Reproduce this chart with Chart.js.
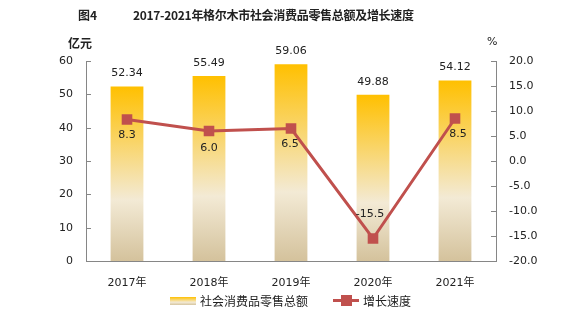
<!DOCTYPE html>
<html>
<head>
<meta charset="utf-8">
<script src="https://cdn.jsdelivr.net/npm/chart.js@4"></script>
<style>
  body { margin:0; background:#fff; }
  #wrap { position:relative; width:581px; height:324px; font-family:"DejaVu Sans","Noto Sans CJK SC",sans-serif; color:#222; }
  #c { position:absolute; left:0; top:0; }
  .t { position:absolute; white-space:pre; }
  .title { top:6px; font-size:12px; font-weight:bold; font-family:"Noto Sans CJK SC",sans-serif; }
  #fig { left:78px; }
  #title { left:133px; letter-spacing:-0.3px; }
  #unitL { left:68px; top:34px; font-size:12px; font-weight:bold; font-family:"Noto Sans CJK SC",sans-serif; }
  #unitR { left:487px; top:35px; font-size:11px; }
  #legend { left:170px; top:292px; font-size:12px; font-family:"DejaVu Sans","Noto Sans CJK SC",sans-serif; display:flex; align-items:center; }
  .sw-bar { width:26px; height:8px; background:linear-gradient(#ffc000,#f3ead5 65%,#d6c59f); margin-right:4px; }
  .sw-line { position:relative; width:26px; height:3px; background:#c0504d; margin:0 4px 0 25px; }
  .sw-line:after { content:""; position:absolute; left:8px; top:-4px; width:11px; height:11px; background:#c0504d; }
</style>
</head>
<body>
<div id="wrap">
  <canvas id="c" width="581" height="324"></canvas>
  <div class="t title" id="fig">图4</div>
  <div class="t title" id="title">2017-2021年格尔木市社会消费品零售总额及增长速度</div>
  <div class="t" id="unitL">亿元</div>
  <div class="t" id="unitR">%</div>
  <div class="t" id="legend"><span class="sw-bar"></span>社会消费品零售总额<span class="sw-line"></span>增长速度</div>
</div>
<script>
// data
const years = ['2017年', '2018年', '2019年', '2020年', '2021年'];
const retailSales = [52.34, 55.49, 59.06, 49.88, 54.12];
const growthRate = [8.3, 6.0, 6.5, -15.5, 8.5];

const lineRed = '#c0504d';
const axisGray = '#868686';

// label offsets for the growth line (dx, dy)
const lineLabelOffsets = [[0, 16], [0, 17], [-1, 16], [-3, -24], [3, 16]];

function barGradient(ctx) {
  const chart = ctx.chart;
  if (!chart.chartArea) return '#ffc000';
  const y = chart.scales.y;
  const top = y.getPixelForValue(ctx.raw);
  const bottom = y.getPixelForValue(0);
  const g = chart.ctx.createLinearGradient(0, top, 0, bottom);
  g.addColorStop(0, '#ffc000');
  g.addColorStop(0.65, '#f3ead5');
  g.addColorStop(1, '#d4c29c');
  return g;
}

// inward tick marks + value labels
const extras = {
  id: 'extras',
  afterDraw(chart) {
    const c = chart.ctx;
    const { y, y1 } = chart.scales;
    c.save();
    c.strokeStyle = axisGray;
    c.lineWidth = 1;
    y.ticks.forEach(t => {
      const py = Math.round(y.getPixelForValue(t.value)) + 0.5;
      c.beginPath(); c.moveTo(y.right, py); c.lineTo(y.right + 5, py); c.stroke();
    });
    y1.ticks.forEach(t => {
      const py = Math.round(y1.getPixelForValue(t.value)) + 0.5;
      c.beginPath(); c.moveTo(y1.left - 5, py); c.lineTo(y1.left, py); c.stroke();
    });
    c.font = '11px "DejaVu Sans", sans-serif';
    c.fillStyle = '#222';
    c.textAlign = 'center';
    c.textBaseline = 'middle';
    chart.getDatasetMeta(1).data.forEach((el, i) => {
      c.fillText(retailSales[i].toFixed(2), el.x, el.y - 13);
    });
    chart.getDatasetMeta(0).data.forEach((el, i) => {
      const [dx, dy] = lineLabelOffsets[i];
      c.fillText(growthRate[i].toFixed(1), el.x + dx, el.y + dy);
    });
    c.restore();
  }
};

new Chart(document.getElementById('c'), {
  data: {
    labels: years,
    datasets: [
      {
        type: 'line', label: '增长速度', data: growthRate, yAxisID: 'y1', order: 0,
        borderColor: lineRed, backgroundColor: lineRed, borderWidth: 3,
        pointStyle: 'rect', pointRadius: 7.5, pointBorderWidth: 0, tension: 0
      },
      {
        type: 'bar', label: '社会消费品零售总额', data: retailSales, yAxisID: 'y', order: 1,
        backgroundColor: barGradient, barPercentage: 0.4, categoryPercentage: 1
      }
    ]
  },
  options: {
    responsive: false,
    animation: false,
    layout: { padding: { top: 61, left: 0, right: 0, bottom: 0 } },
    plugins: { legend: { display: false }, tooltip: { enabled: false } },
    scales: {
      x: {
        grid: { display: false, drawTicks: false },
        border: { color: axisGray },
        ticks: { color: '#222', padding: 16, font: { size: 11, family: '"DejaVu Sans","Noto Sans CJK SC"' } },
        afterFit: s => { s.height = 63; }
      },
      y: {
        position: 'left', min: 0, max: 60,
        grid: { display: false, drawTicks: false },
        border: { color: axisGray },
        ticks: { stepSize: 10, color: '#222', padding: 13, font: { size: 11, family: '"DejaVu Sans"' } },
        afterFit: s => { s.width = 86; }
      },
      y1: {
        position: 'right', min: -20, max: 20,
        grid: { display: false, drawTicks: false },
        border: { color: axisGray },
        ticks: { stepSize: 5, color: '#222', padding: 13, font: { size: 11, family: '"DejaVu Sans"' }, callback: v => Number(v).toFixed(1) },
        afterFit: s => { s.width = 85; }
      }
    }
  },
  plugins: [extras]
});
</script>
</body>
</html>
